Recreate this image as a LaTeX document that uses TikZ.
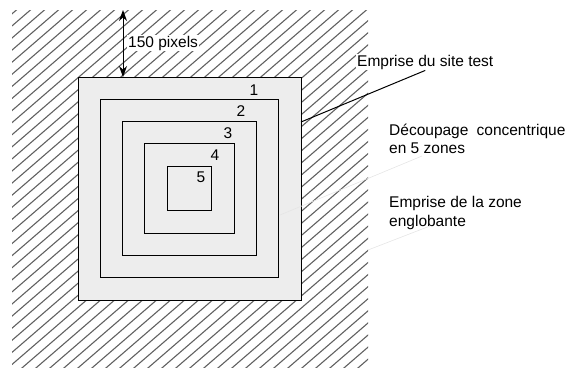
\documentclass[tikz,border=0pt]{standalone}
\usepackage{fontspec}
\setmainfont{Liberation Sans}
\usetikzlibrary{arrows.meta}

\begin{document}
\begin{tikzpicture}[x=1pt,y=-1pt,
  hatch/.style={black!62, line width=1.1pt},
  zone/.style={line width=0.9pt},
  txt/.style={font=\fontsize{15.5}{18.5}\selectfont, inner sep=1pt},
  dim/.style={line width=1pt, {Stealth[length=11pt,width=8pt]}-{Stealth[length=11pt,width=8pt]}},
  faint/.style={black!10, line width=0.6pt}]
\useasboundingbox (0,0) rectangle (570,372);
% zone englobante, hachuree
\begin{scope}
\clip (12,10) rectangle (368,367);
\foreach \x in {-440,-426,...,380}
  \draw[hatch] (\x,380) -- ++(440,-380);
\end{scope}
% site test et ses 5 zones
\draw[line width=1pt, fill=black!7] (78,77) rectangle (301,300);
\foreach \r in {89.2,66.9,44.6,22.3}
  \draw[zone] ({189.5-\r},{188.5-\r}) rectangle ({189.5+\r},{188.5+\r});
\foreach \n/\x/\y in {1/254/90,2/241/111,3/228/133,4/215/155,5/201/177}
  \node[txt] (z\n) at (\x,\y) {\n};
% marge de 150 pixels
\coordinate (htop) at (123,10);
\coordinate (stop) at (123,77);
\draw[dim] (htop) -- (stop);
\node[txt, fill=white, anchor=west] (marge) at (127,43) {150 pixels};
% legendes
\node[txt, fill=white, anchor=west] (site) at (356,62) {Emprise du site test};
\node[txt, anchor=west, align=left] (decoupage) at (388,139) {D\'ecoupage\hspace{0.25em} concentrique\\en 5 zones};
\node[txt, anchor=west, align=left] (englobe) at (388,213) {Emprise de la zone\\englobante};
\coordinate (siteedge) at (301,122);
\draw[line width=1pt] (siteedge) -- (site.south);
\coordinate (f1) at (280,215);
\coordinate (f1b) at (422,156);
\coordinate (f2) at (368,250);
\coordinate (f2b) at (430,226);
\draw[faint] (f1) -- (f1b);
\draw[faint] (f2) -- (f2b);
\end{tikzpicture}
\end{document}
